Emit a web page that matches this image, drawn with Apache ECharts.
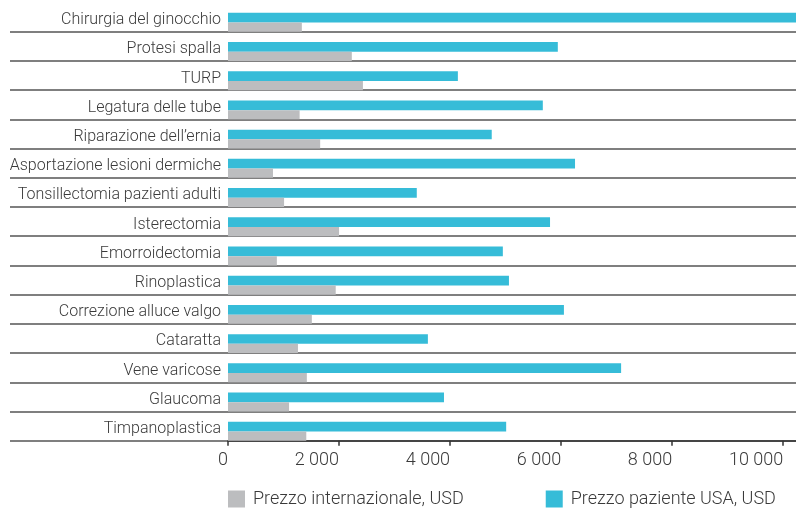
<!DOCTYPE html>
<html>
<head>
<meta charset="utf-8">
<script src="https://cdn.jsdelivr.net/npm/echarts@6/dist/echarts.min.js"></script>
<style>
  html, body { margin: 0; padding: 0; background: #fff; }
  #chart { width: 796px; height: 509px; }
</style>
</head>
<body>
<div id="chart"></div>
<script>
// Procedures, listed top to bottom
const categories = [
  'Chirurgia del ginocchio',
  'Protesi spalla',
  'TURP',
  'Legatura delle tube',
  'Riparazione dell\u2019ernia',
  'Asportazione lesioni dermiche',
  'Tonsillectomia pazienti adulti',
  'Isterectomia',
  'Emorroidectomia',
  'Rinoplastica',
  'Correzione alluce valgo',
  'Cataratta',
  'Vene varicose',
  'Glaucoma',
  'Timpanoplastica'
];

// Price paid by a US patient (USD)
const usaPrice = [10250, 5940, 4140, 5670, 4750, 6250, 3400, 5800, 4950, 5060, 6050, 3600, 7080, 3890, 5010];

// International price (USD)
const intlPrice = [1330, 2230, 2430, 1290, 1660, 810, 1010, 2000, 880, 1940, 1510, 1260, 1420, 1100, 1410];

const xTicks = { min: 0, max: 10500, interval: 2000 };

const seriesNames = ['Prezzo internazionale, USD', 'Prezzo paziente USA, USD'];

const FONT = 'Roboto, "Noto Sans", sans-serif';
const TEXT = '#3a3a3a';
const RULE = '#555';

// no rule above the first row
const skipFirst = (idx) => idx !== 0;

const spaced = (v) => String(v).replace(/\B(?=(\d{3})+(?!\d))/g, ' ');

const chart = echarts.init(document.getElementById('chart'), null, { renderer: 'canvas' });

chart.setOption({
  animation: false,
  backgroundColor: '#fff',
  // the plot runs past the right edge, so the longest bar is cut by the frame
  grid: {
    left: 228, top: 2.5, height: 438.2, width: 583,
    containLabel: false,
    outerBoundsMode: 'none'
  },
  legend: {
    data: seriesNames,
    left: 228,
    top: 490,
    padding: 0,
    itemGap: 82,
    itemWidth: 17,
    itemHeight: 17,
    icon: 'rect',
    selectedMode: false,
    textStyle: { fontFamily: FONT, fontSize: 18, fontWeight: 300, color: TEXT, padding: [0, 0, 0, 3] }
  },
  xAxis: {
    type: 'value',
    min: xTicks.min,
    max: xTicks.max,
    interval: xTicks.interval,
    splitLine: { show: false },
    axisLine: { show: true, lineStyle: { color: '#333', width: 1.5 } },
    axisTick: { show: true, length: 5, lineStyle: { color: '#333', width: 1.5 } },
    axisLabel: {
      showMaxLabel: false,
      align: 'right',
      margin: 11,
      fontFamily: FONT,
      fontSize: 18,
      fontWeight: 300,
      color: TEXT,
      formatter: spaced
    }
  },
  yAxis: {
    type: 'category',
    inverse: true,
    data: categories,
    axisLine: { show: false },
    axisTick: { show: true, length: 218, interval: skipFirst, lineStyle: { color: RULE, width: 1.5 } },
    splitLine: { show: true, interval: skipFirst, lineStyle: { color: RULE, width: 1.5 } },
    axisLabel: {
      margin: 7,
      formatter: (v) => '{t|' + v + '}',
      rich: {
        t: {
          fontFamily: FONT,
          fontSize: 16,
          fontWeight: 300,
          color: TEXT,
          padding: [6, 0, 0, 0]
        }
      }
    }
  },
  series: [
    {
      // empty slot that keeps the two bars at the bottom of each row
      type: 'bar',
      name: 'spacer',
      data: categories.map(() => '-'),
      barWidth: 10.3,
      barGap: '0%',
      silent: true
    },
    {
      type: 'bar',
      name: seriesNames[1],
      data: usaPrice,
      barWidth: 9.7,
      barGap: '0%',
      itemStyle: { color: '#36bcd8' }
    },
    {
      type: 'bar',
      name: seriesNames[0],
      data: intlPrice,
      barWidth: 9.2,
      barGap: '0%',
      itemStyle: { color: '#bcbdbf' }
    }
  ]
});
</script>
</body>
</html>
